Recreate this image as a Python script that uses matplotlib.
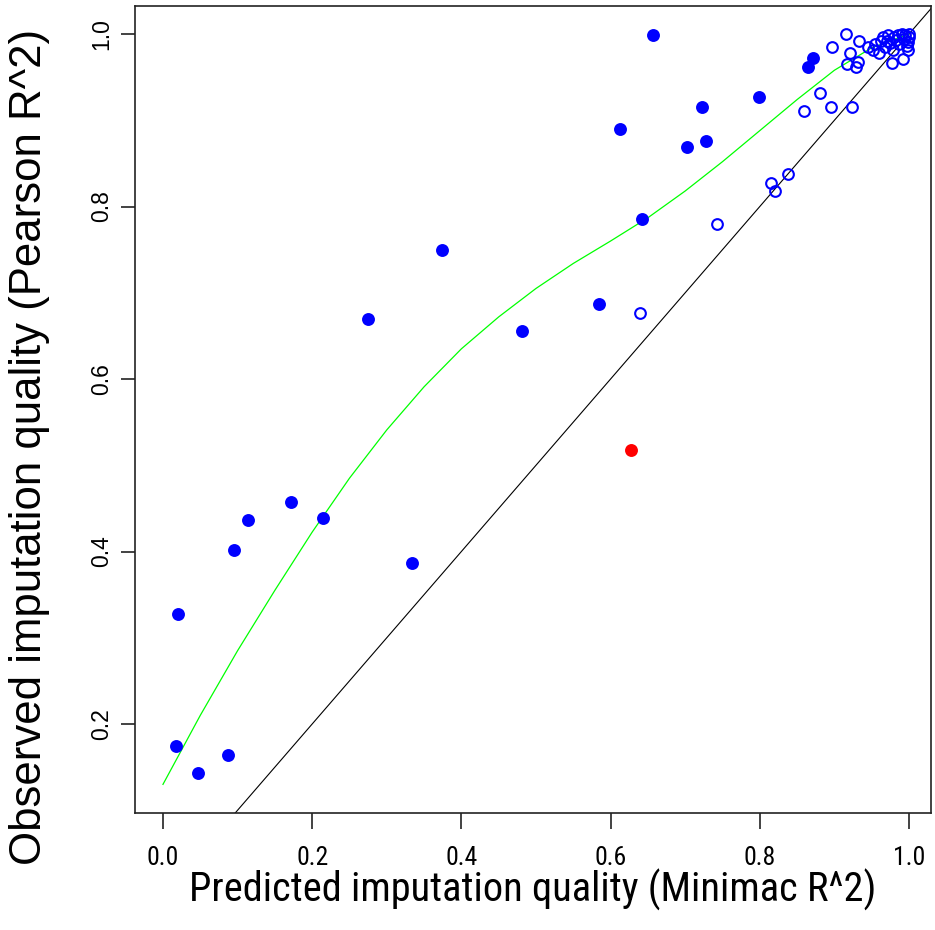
import numpy as np
import matplotlib
matplotlib.use('Agg')
import matplotlib.pyplot as plt
from matplotlib import font_manager
from matplotlib.font_manager import FontProperties

# Predicted (Minimac R^2) vs observed (Pearson R^2) imputation quality
filled_x = [0.018, 0.0205, 0.047, 0.0875, 0.095, 0.114, 0.171, 0.215, 0.275,
            0.334, 0.3735, 0.481, 0.5845, 0.612, 0.642, 0.657, 0.702, 0.722,
            0.7275, 0.799, 0.864, 0.871]
filled_y = [0.174, 0.327, 0.143, 0.164, 0.402, 0.437, 0.457, 0.439, 0.670,
            0.387, 0.750, 0.656, 0.687, 0.890, 0.786, 0.999, 0.869, 0.915,
            0.876, 0.927, 0.962, 0.972]

outlier_x = [0.627]
outlier_y = [0.518]

open_x = [0.639, 0.742, 0.815, 0.820, 0.838, 0.859, 0.881, 0.896, 0.923,
          0.897, 0.915, 0.933, 0.921, 0.931, 0.917, 0.929, 0.977, 0.992,
          0.999, 0.945, 0.952, 0.955, 0.960, 0.962, 0.965, 0.968, 0.972,
          0.975, 0.978, 0.980, 0.985, 0.987, 0.990, 0.993, 0.995, 0.997,
          1.000, 1.000, 0.998, 0.983, 0.970]
open_y = [0.677, 0.780, 0.827, 0.818, 0.838, 0.911, 0.932, 0.915, 0.915,
          0.985, 1.000, 0.992, 0.978, 0.968, 0.965, 0.962, 0.966, 0.971,
          0.982, 0.985, 0.982, 0.988, 0.978, 0.992, 0.997, 0.985, 0.999,
          0.990, 0.982, 0.996, 0.999, 0.988, 1.000, 0.994, 0.999, 0.986,
          1.000, 0.996, 0.991, 0.993, 0.992]

# lowess fit through all points
smooth_x = [0.0, 0.05, 0.1, 0.15, 0.2, 0.25, 0.3, 0.35, 0.4, 0.45, 0.5,
            0.55, 0.6, 0.65, 0.7, 0.75, 0.8, 0.85, 0.9, 0.95, 1.0]
smooth_y = [0.130, 0.210, 0.285, 0.355, 0.4225, 0.485, 0.541, 0.591, 0.635,
            0.672, 0.705, 0.734, 0.760, 0.787, 0.818, 0.852, 0.888, 0.924,
            0.958, 0.984, 1.000]

ticks_x = [0.0, 0.2, 0.4, 0.6, 0.8, 1.0]
ticks_y = [0.2, 0.4, 0.6, 0.8, 1.0]

xlabel = 'Predicted imputation quality (Minimac R^2)'
ylabel = 'Observed imputation quality (Pearson R^2)'


def narrow_font():
    ''' Finds a narrow sans face for the horizontal texts, if one is installed.
    '''
    prefs = ['Liberation Sans Narrow', 'Arial Narrow', 'Roboto Condensed',
             'Open Sans Condensed', 'Noto Sans Condensed', 'DejaVu Sans',
             'Noto Sans', 'Open Sans', 'Roboto']
    found = {}
    for f in font_manager.fontManager.ttflist:
        if f.style != 'normal' or f.weight not in (400, 'normal', 'regular'):
            continue
        if f.stretch in ('condensed', 'semi-condensed') or 'Narrow' in f.name \
                or 'Condensed' in f.name:
            found.setdefault(f.name, f.fname)
    for name in prefs:
        if name in found:
            return FontProperties(fname=found[name])
    return FontProperties(family='Liberation Sans')


plt.rcParams['font.family'] = ['Liberation Sans', 'DejaVu Sans']

fig = plt.figure(figsize=(9.35, 9.30), dpi=100)
ax = fig.add_axes([135 / 935, 117 / 930, 796 / 935, 807 / 930])

ax.plot([0, 1.1], [0, 1.1], color='black', lw=0.8, zorder=1)
ax.plot(smooth_x, smooth_y, color='#00ff00', lw=0.9, zorder=1)

ax.plot(open_x, open_y, 'o', ms=7.7, mfc='none', mec='#0000ff', mew=1.5, zorder=2)
ax.plot(filled_x, filled_y, 'o', ms=9.3, color='#0000ff', mec='none', zorder=3)
ax.plot(outlier_x, outlier_y, 'o', ms=9.3, color='#ff0000', mec='none', zorder=3)

ax.set_xlim(-0.0375, 1.0295)
ax.set_ylim(0.0968, 1.0325)

for s in ax.spines.values():
    s.set_linewidth(1.2)
    s.set_color('#222222')

fp = narrow_font()
ax.set_xticks(ticks_x)
ax.set_yticks(ticks_y)
ax.set_yticklabels(['%.1f' % t for t in ticks_y], rotation=90, va='center', fontsize=16.5)
ax.tick_params(axis='x', length=11.5, width=1.2, color='#222222')
ax.tick_params(axis='y', length=10, width=1.2, pad=6, color='#222222')

xt = fig.text(0.5 * (135 + 931) / 935, 1 - 890 / 930, xlabel, fontproperties=fp,
              fontsize=30, ha='center', va='center')
yt = fig.text(30 / 935, 1 - 447 / 930, ylabel, fontsize=31.5, rotation=90,
              ha='center', va='center')

# squeeze the horizontal texts to their drawn width
fig.canvas.draw()
scale = 685 / xt.get_window_extent().width
xt.set_fontsize(30 * scale)
tick_fp = fp.copy()
tick_fp.set_size(30 * scale * 0.64)
ax.set_xticklabels(['%.1f' % t for t in ticks_x], fontproperties=tick_fp)
ax.tick_params(axis='x', pad=12)

fig.savefig('out.png', dpi=100)
